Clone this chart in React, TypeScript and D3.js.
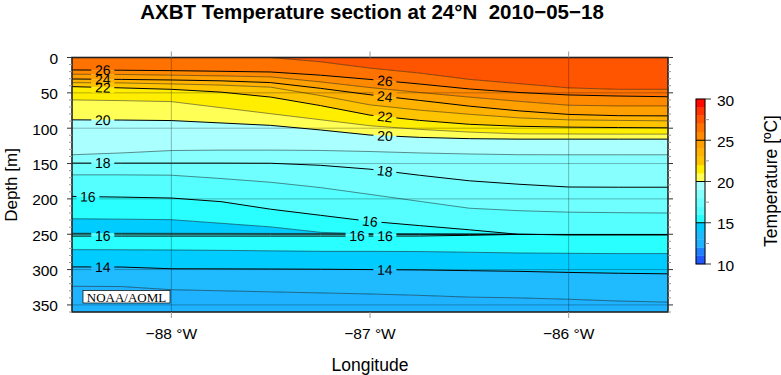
import React from 'react';
import * as d3 from 'd3';

// ---- data ----
const LONS = [-88.5, -88.25, -88, -87.75, -87.5, -87.25, -87, -86.75, -86.5, -86.25, -86, -85.75, -85.5];

// isotherm depths (m) at each longitude, top to bottom
const ISO_27 = [0, 0, 0, 0, 0, 6, 15, 22, 31, 37, 43, 45, 45];
const ISO_26 = [17.6, 18, 18.6, 19.5, 20.5, 25, 31, 37.5, 44.5, 49.5, 53, 54.5, 55.5];
const ISO_25 = [23.7, 24, 25, 26, 27.5, 34.5, 42.5, 49.5, 56, 62, 67.5, 68.5, 68.5];
const ISO_24 = [30.4, 31, 31.8, 33, 35.5, 43.6, 52.7, 60.7, 68.8, 75.5, 80.5, 82.3, 82.6];
const ISO_23 = [35.6, 36, 37.4, 39, 42, 53.8, 67, 74.5, 80.3, 85.4, 88.2, 89, 89.6];
const ISO_22 = [41.2, 43, 45, 49, 56, 68, 81.5, 89, 94.5, 97.3, 98.5, 99.1, 99.5];
const ISO_21 = [60, 61, 62.4, 71, 79.5, 88, 96.5, 101.7, 105.5, 108, 108.2, 108.4, 108.4];
const ISO_20 = [88.2, 88.5, 89.2, 92.6, 96, 102.5, 109.7, 113, 114.8, 115.5, 115.5, 115.5, 115.5];
const ISO_19 = [137.6, 135, 131.6, 131, 131, 131.5, 133, 135, 136.5, 137.5, 137.6, 137.6, 137.6];
const ISO_18 = [149.4, 149.4, 149.4, 149.4, 149.6, 152.5, 158, 166.6, 174.4, 179.3, 183.2, 183.5, 183.5];
const ISO_17 = [166, 166, 166.5, 171.2, 176.5, 184, 193.7, 203.5, 213.2, 216.7, 218.8, 219.5, 220];
const ISO_16_UPPER = [196.5, 197.5, 198.8, 203.9, 214.6, 223.2, 231.8, 237.8, 243.7, 250.2, 250.6, 250.6, 250.6];
const ISO_15_WEDGE_TOP = [228.1, 228.7, 229.4, 234.5, 239.6, 247.3, 249.5, 249.8, 249.9, 250.2, 250.6, 250.6, 250.6];
const ISO_15_WEDGE_BOT = [248.5, 248.5, 248.6, 248.7, 248.8, 248.9, 249.6, 249.8, 249.9, 250.2, 250.6, 250.6, 250.6];
const ISO_16_A = [249.6, 249.6, 249.7, 249.7, 249.8, 249.8, 249.9, 249.9, 250, 250.2, 250.6, 250.6, 250.6];
const ISO_16_B = [252.6, 252.6, 252.6, 252.6, 252.6, 252.6, 252.6, 252.5, 251.5, 250.2, 250.6, 250.6, 250.6];
const ISO_15 = [271.8, 272, 272.3, 272.8, 273.5, 274.2, 274.2, 274.5, 275.5, 276.5, 277, 277.4, 277.4];
const ISO_14 = [296.2, 296.4, 298.8, 299, 299.2, 299.5, 300, 300.5, 301.5, 302.5, 304, 305.2, 306];
const ISO_13 = [323.6, 324, 328.5, 330, 331.5, 333, 334.5, 336.5, 339, 340, 342, 344.5, 346];

const ISOTHERMS = [
  { level: 27, depths: ISO_27 },
  { level: 26, depths: ISO_26 },
  { level: 25, depths: ISO_25 },
  { level: 24, depths: ISO_24 },
  { level: 23, depths: ISO_23 },
  { level: 22, depths: ISO_22 },
  { level: 21, depths: ISO_21 },
  { level: 20, depths: ISO_20 },
  { level: 19, depths: ISO_19 },
  { level: 18, depths: ISO_18 },
  { level: 17, depths: ISO_17 },
  { level: 16, depths: ISO_16_UPPER },
  { level: 15, depths: ISO_15_WEDGE_TOP },
  { level: 15, depths: ISO_15_WEDGE_BOT },
  { level: 16, depths: ISO_16_A },
  { level: 16, depths: ISO_16_B },
  { level: 15, depths: ISO_15 },
  { level: 14, depths: ISO_14 },
  { level: 13, depths: ISO_13 },
];

// lower temperature of the band in each layer (surface -> bottom)
const LAYER_BANDS = [27, 26, 25, 24, 23, 22, 21, 20, 19, 18, 17, 16, 15, 14, 15, 16, 15, 14, 13, 12];

const BAND_TEMPS = [10, 11, 12, 13, 14, 15, 16, 17, 18, 19, 20, 21, 22, 23, 24, 25, 26, 27, 28, 29];
const BAND_COLORS = [
  '#2259ff', '#2080ff', '#1fb2ff', '#20bbff', '#00ccff',
  '#2affff', '#55ffff', '#70ffff', '#88ffff', '#aaffff',
  '#ffff55', '#ffee00', '#ffc400', '#ffb200', '#ffa000',
  '#ff8a00', '#ff7200', '#ff5400', '#ff3400', '#ff0800',
];

// contour labels: isotherm index + longitude where the label sits
const LABEL_LINES = [1, 3, 5, 7, 9, 11, 15, 17, 1, 3, 5, 7, 9, 11, 15, 15, 17];
const LABEL_LONS = [-88.345, -88.345, -88.345, -88.345, -88.345, -88.42, -88.345, -88.345,
  -86.925, -86.925, -86.925, -86.925, -86.925, -87.0, -87.065, -86.925, -86.925];

const X_TICKS = [-88, -87, -86];
const X_GRID = [-88, -86];
const Y_TICKS = [0, 50, 100, 150, 200, 250, 300, 350];
const CBAR_TICKS = [10, 15, 20, 25, 30];
const CBAR_MINOR = [12.5, 17.5, 22.5, 27.5];

const SANS = '"Liberation Sans", Arial, Helvetica, sans-serif';

export default function App() {
  const W = 781, H = 375;
  const L = 72, R = 668, T = 57.5, B = 312;
  const x = d3.scaleLinear().domain([-88.5, -85.5]).range([L, R]);
  const y = d3.scaleLinear().domain([0, 360]).range([T, B]);
  const tScale = d3.scaleLinear().domain([10, 30]).range([264, 99]);
  const colorOf = (t: number) => BAND_COLORS[BAND_TEMPS.indexOf(t)];

  const idx = LONS.map((_, i) => i);
  const layers = LAYER_BANDS.map((t, i) => {
    const upper = i === 0 ? null : ISOTHERMS[i - 1].depths;
    const lower = i === ISOTHERMS.length ? null : ISOTHERMS[i].depths;
    const gen = d3.area<number>()
      .x(j => x(LONS[j]))
      .y0(j => y(upper ? upper[j] : 0))
      .y1(j => y(lower ? lower[j] : 360));
    return { t, d: gen(idx) || '' };
  });

  const lineGen = (depths: number[]) =>
    d3.line<number>().x(j => x(LONS[j])).y(j => y(depths[j]))(idx) || '';

  const labels = LABEL_LINES.map((li, k) => {
    const iso = ISOTHERMS[li];
    const interp = d3.scaleLinear().domain(LONS).range(iso.depths);
    const lon = LABEL_LONS[k];
    const px = x(lon);
    const py = y(interp(lon));
    const dy = y(interp(lon + 0.04)) - y(interp(lon - 0.04));
    const dx = x(lon + 0.04) - x(lon - 0.04);
    const ang = (Math.atan2(dy, dx) * 180) / Math.PI;
    return { text: String(iso.level), px, py, ang };
  });

  const oddLines = ISOTHERMS.filter(s => s.level % 2 === 1);
  const evenLines = ISOTHERMS.filter(s => s.level % 2 === 0);

  return (
    <svg width={W} height={H} style={{ position: 'absolute', left: 0, top: 0, background: '#fff' }}>
      <defs>
        <clipPath id="plotclip">
          <rect x={L} y={T} width={R - L} height={B - T} />
        </clipPath>
        <mask id="lblmask" maskUnits="userSpaceOnUse" x={0} y={0} width={W} height={H}>
          <rect x={0} y={0} width={W} height={H} fill="white" />
          {labels.map((l, k) => (
            <rect key={k} x={-11.5} y={-5.5} width={23} height={11} fill="black"
              transform={`translate(${l.px},${l.py}) rotate(${l.ang})`} />
          ))}
        </mask>
      </defs>

      {/* title */}
      <text x={372} y={18.5} textAnchor="middle" fontFamily={SANS} fontWeight="bold" fontSize={20.5}>
        {'AXBT Temperature section at 24°N\u00a0 2010−05−18'}
      </text>

      {/* filled bands */}
      <g clipPath="url(#plotclip)">
        {layers.map((ly, i) => (
          <path key={i} d={ly.d} fill={colorOf(ly.t)} stroke={colorOf(ly.t)} strokeWidth={0.3} />
        ))}
      </g>

      {/* grid + contour lines, masked around labels */}
      <g clipPath="url(#plotclip)">
        <g mask="url(#lblmask)">
          {Y_TICKS.filter(d => d > 0).map(d => (
            <line key={'gy' + d} x1={L} x2={R} y1={y(d)} y2={y(d)} stroke="#000" strokeOpacity={0.28} strokeWidth={1} />
          ))}
          {X_GRID.map(v => (
            <line key={'gx' + v} x1={x(v)} x2={x(v)} y1={T} y2={B} stroke="#000" strokeOpacity={0.28} strokeWidth={1} />
          ))}
          {oddLines.map((s, i) => (
            <path key={'o' + i} d={lineGen(s.depths)} fill="none" stroke="#000" strokeOpacity={0.45} strokeWidth={1} />
          ))}
          {evenLines.map((s, i) => (
            <path key={'e' + i} d={lineGen(s.depths)} fill="none" stroke="#000" strokeWidth={1} />
          ))}
        </g>
      </g>

      {/* contour labels */}
      {labels.map((l, k) => (
        <text key={k} transform={`translate(${l.px},${l.py}) rotate(${l.ang})`} textAnchor="middle"
          dominantBaseline="central" fontFamily={SANS} fontSize={14} fill="#000">
          {l.text}
        </text>
      ))}

      {/* NOAA/AOML box */}
      <rect x={83} y={290.5} width={87} height={12.5} fill="#fff" stroke="#000" strokeWidth={0.7} />
      <text x={126.5} y={301.5} textAnchor="middle" fontFamily='"Liberation Serif", "Times New Roman", serif' fontSize={13}>
        NOAA/AOML
      </text>

      {/* frame */}
      <rect x={L} y={T} width={R - L} height={B - T} fill="none" stroke="#222" strokeWidth={1.6} />

      {/* y ticks */}
      {d3.range(0, 361, 10).map(d => {
        const major = d % 50 === 0;
        return (
          <g key={'yt' + d}>
            <line x1={major ? L - 5 : L - 3} x2={L} y1={y(d)} y2={y(d)} stroke={major ? '#333' : '#999'} strokeWidth={1} />
            <line x1={R} x2={major ? R + 5 : R + 3} y1={y(d)} y2={y(d)} stroke={major ? '#333' : '#999'} strokeWidth={1} />
          </g>
        );
      })}
      {Y_TICKS.map(d => (
        <text key={'yl' + d} x={58} y={y(d) + 1} textAnchor="end" dominantBaseline="central"
          fontFamily={SANS} fontSize={15.5}>{d}</text>
      ))}
      <text transform="translate(17,185) rotate(-90)" textAnchor="middle" fontFamily={SANS} fontSize={17}>Depth [m]</text>

      {/* x ticks */}
      {X_TICKS.map(v => (
        <g key={'xt' + v}>
          <line x1={x(v)} x2={x(v)} y1={T - 6} y2={T} stroke="#999" strokeWidth={1} />
          <line x1={x(v)} x2={x(v)} y1={B} y2={B + 6} stroke="#999" strokeWidth={1} />
          <text x={x(v)} y={339} textAnchor="middle" fontFamily={SANS} fontSize={15.5}>
            {`−${Math.abs(v)} °W`}
          </text>
        </g>
      ))}
      <text x={370} y={371} textAnchor="middle" fontFamily={SANS} fontSize={17.5}>Longitude</text>

      {/* colorbar */}
      {BAND_TEMPS.map((t, i) => (
        <rect key={'cb' + t} x={696} y={tScale(t + 1)} width={9} height={tScale(t) - tScale(t + 1)}
          fill={BAND_COLORS[i]} stroke={BAND_COLORS[i]} strokeWidth={0.3} />
      ))}
      {[15, 20, 25].map(t => (
        <line key={'cbl' + t} x1={696} x2={705} y1={tScale(t)} y2={tScale(t)} stroke="#000" strokeWidth={1} />
      ))}
      <rect x={696} y={tScale(30)} width={9} height={tScale(10) - tScale(30)} fill="none" stroke="#000" strokeWidth={1} />
      {CBAR_TICKS.map(t => (
        <g key={'ct' + t}>
          <line x1={705} x2={711} y1={tScale(t)} y2={tScale(t)} stroke="#333" strokeWidth={1} />
          <text x={717} y={tScale(t) + 1} dominantBaseline="central" fontFamily={SANS} fontSize={15.5}>{t}</text>
        </g>
      ))}
      {CBAR_MINOR.map(t => (
        <line key={'cm' + t} x1={705} x2={709} y1={tScale(t)} y2={tScale(t)} stroke="#999" strokeWidth={1} />
      ))}
      <text transform="translate(777,181) rotate(-90)" textAnchor="middle" fontFamily={SANS} fontSize={17.5}>
        Temperature [ºC]
      </text>
    </svg>
  );
}
